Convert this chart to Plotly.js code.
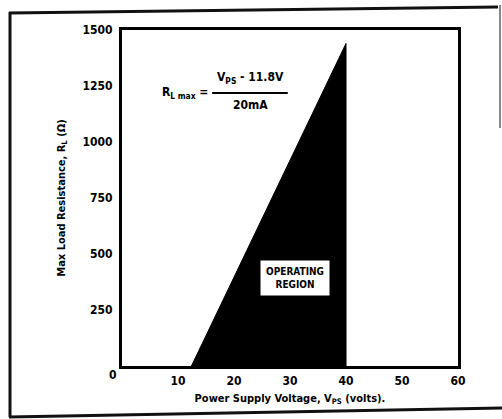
<!DOCTYPE html>
<html>
<head>
<meta charset="utf-8">
<script src="https://cdn.plot.ly/plotly-3.0.1.min.js"></script>
<style>html,body{margin:0;padding:0;background:#fff;}#chart{width:502px;height:419px;}</style>
</head>
<body>
<div id="chart"></div>
<script>
// Data
var regionX = [12.4, 40, 40];
var regionY = [0, 1440, 0];
var xTickVals = [10, 20, 30, 40, 50, 60];
var xTickText = ['10', '20', '30', '40', '50', '60'];
var yTickVals = [250, 500, 750, 1000, 1250, 1500];
var yTickText = ['250', '500', '750', '1000', '1250', '1500'];

var FONT = '"DejaVu Sans Condensed", "Liberation Sans Narrow", sans-serif';
var W = 502, H = 419;
var L = 122, R = 458, T = 30, B = 366;
function px(x) { return (x - L) / (R - L); }
function py(y) { return (B - y) / (B - T); }

var trace = {
  x: regionX, y: regionY, type: 'scatter', mode: 'lines',
  fill: 'toself', fillcolor: '#000', line: {color: '#000', width: 1},
  hoverinfo: 'skip', showlegend: false
};

function frameLine(x0, y0, x1, y1, c, w) {
  return {type: 'line', xref: 'paper', yref: 'paper',
    x0: px(x0), y0: py(y0), x1: px(x1), y1: py(y1),
    line: {color: c || '#111', width: w || 3}};
}

var layout = {
  width: W, height: H,
  margin: {l: L, r: W - R, t: T, b: H - B},
  paper_bgcolor: '#fff', plot_bgcolor: '#fff',
  font: {family: FONT, color: '#000', size: 12, weight: 'bold'},
  showlegend: false,
  xaxis: {
    range: [0, 60], tickvals: xTickVals, ticktext: xTickText,
    showgrid: false, zeroline: false, ticks: '', ticklabelstandoff: 2,
    showline: true, linecolor: '#000', linewidth: 3, mirror: true,
    tickfont: {family: FONT, size: 12, weight: 'bold'},
    title: {text: 'Power Supply Voltage, V<sub>PS</sub> (volts).', standoff: 7,
      font: {family: FONT, size: 11, weight: 'bold'}},
    fixedrange: true
  },
  yaxis: {
    range: [0, 1500], tickvals: yTickVals, ticktext: yTickText,
    showgrid: false, zeroline: false, ticks: '', ticklabelstandoff: 4,
    showline: true, linecolor: '#000', linewidth: 3, mirror: true,
    tickfont: {family: FONT, size: 12, weight: 'bold'},
    title: {text: 'Max Load Resistance, R<sub>L</sub> (Ω)', standoff: 15,
      font: {family: FONT, size: 11, weight: 'bold'}},
    fixedrange: true
  },
  shapes: [
    frameLine(9, 13, 498, 7),
    frameLine(10, 12, 10, 417),
    frameLine(9, 417, 502, 408),
    frameLine(500, 5, 500, 128, '#888', 2),
    {type: 'line', xref: 'x', yref: 'y', x0: 16.1, x1: 29.6, y0: 1219, y1: 1219,
      line: {color: '#000', width: 2}}
  ],
  annotations: [
    {xref: 'paper', yref: 'paper', x: px(113), y: py(375), xanchor: 'center', yanchor: 'middle',
      text: '0', showarrow: false,
      font: {family: FONT, size: 12, weight: 'bold'}},
    {xref: 'x', yref: 'y', x: 15.8, y: 1219, xanchor: 'right', yanchor: 'middle',
      text: 'R<sub>L max</sub> =', showarrow: false,
      font: {family: FONT, size: 12, weight: 'bold'}},
    {xref: 'x', yref: 'y', x: 22.9, y: 1219 + 22, xanchor: 'center', yanchor: 'bottom',
      text: 'V<sub>PS</sub> - 11.8V', showarrow: false,
      font: {family: FONT, size: 12, weight: 'bold'}},
    {xref: 'x', yref: 'y', x: 23.0, y: 1219 - 14, xanchor: 'center', yanchor: 'top',
      text: '20mA', showarrow: false,
      font: {family: FONT, size: 12, weight: 'bold'}},
    {xref: 'x', yref: 'y', x: 30.9, y: 393, xanchor: 'center', yanchor: 'middle',
      text: 'OPERATING<br>REGION', showarrow: false, bgcolor: '#fff',
      borderpad: 5, align: 'center',
      font: {family: FONT, size: 10, weight: 'bold', color: '#000'}}
  ]
};

Plotly.newPlot('chart', [trace], layout, {staticPlot: true, displayModeBar: false});
</script>
</body>
</html>
